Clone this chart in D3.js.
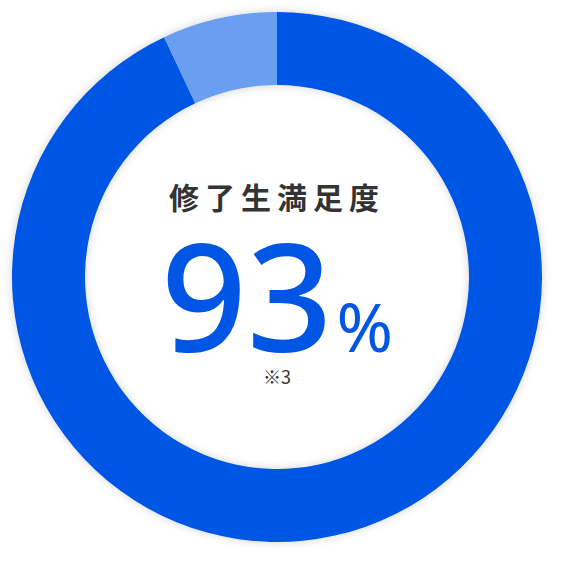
<!DOCTYPE html>
<html><head><meta charset="utf-8">
<script src="https://cdn.jsdelivr.net/npm/d3@7"></script>
<style>html,body{margin:0;padding:0;background:#fff;}svg{display:block;}</style>
</head><body>
<svg id="c" width="562" height="562"></svg>
<script>
const categories = ["満足", "その他"];
const values = [93, 7];
const colors = ["#0056E4", "#6A9EF0"];
const title = "修了生満足度";
const bigValue = "93";
const unit = "%";
const note = "※3";

const svg = d3.select("#c");
const cx = 277, cy = 277, outerR = 265, innerR = 192;
const defs = svg.append("defs");
const f = defs.append("filter").attr("id","sh").attr("x","-20%").attr("y","-20%").attr("width","140%").attr("height","140%");
f.append("feDropShadow").attr("dx",0).attr("dy",0).attr("stdDeviation",4).attr("flood-color","#000").attr("flood-opacity",0.18);

const pie = d3.pie().sort(null).value(d => d);
const arc = d3.arc().innerRadius(innerR).outerRadius(outerR);
const g = svg.append("g").attr("transform",`translate(${cx},${cy})`).attr("filter","url(#sh)");
g.selectAll("path").data(pie(values)).join("path")
  .attr("d", arc).attr("fill",(d,i)=>colors[i]);

const t = svg.append("g").attr("transform",`translate(${cx},0)`);
t.append("text").attr("x",0).attr("y",209).attr("text-anchor","middle")
  .attr("font-family","'Noto Sans CJK JP', sans-serif").attr("font-weight",700)
  .attr("font-size",30).attr("letter-spacing",6).attr("fill","#333").text(title);
const num = t.append("text").attr("y",352).attr("text-anchor","middle")
  .attr("font-family","'Noto Sans', 'Open Sans', sans-serif").attr("fill",colors[0]);
num.append("tspan").attr("font-size",150).attr("font-weight",500).text(bigValue);
num.append("tspan").attr("font-size",68).attr("font-weight",400).attr("dx",4).text(unit);
t.append("text").attr("x",0).attr("y",384).attr("text-anchor","middle")
  .attr("font-family","'Noto Sans CJK JP', sans-serif").attr("font-size",18).attr("fill","#333").text(note);
</script>
</body></html>
